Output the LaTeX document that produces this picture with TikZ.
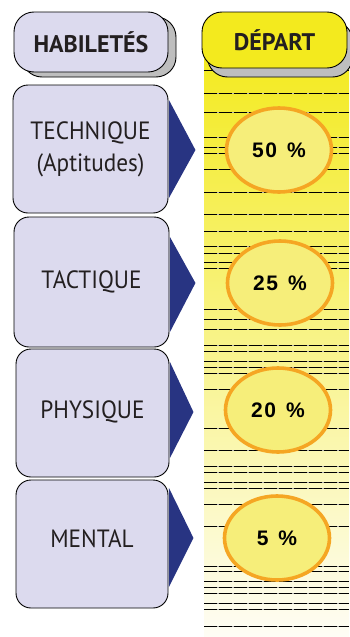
\documentclass[tikz,border=0pt]{standalone}
\usepackage{fontspec}
\setmainfont{PT Sans}
\newfontfamily\boxfont[FakeStretch=0.93]{PT Sans}
\newfontfamily\headfont{PT Sans}
\newfontfamily\pctfont{Liberation Sans}
\usetikzlibrary{calc,shapes.geometric}
\definecolor{lav}{RGB}{220,218,238}
\definecolor{navy}{RGB}{40,52,130}
\definecolor{ylw}{RGB}{243,234,30}
\definecolor{ylwmid}{RGB}{248,242,165}
\definecolor{ylwbot}{RGB}{254,253,245}
\definecolor{orng}{RGB}{245,166,35}
\definecolor{ellfill}{RGB}{246,238,122}
\definecolor{txt}{RGB}{35,31,32}
\definecolor{shadowgray}{RGB}{190,190,190}
\tikzset{
  skillbox/.style={draw=black, line width=0.9pt, fill=lav, rounded corners=15pt,
    inner sep=0pt, align=center, text=txt, font=\boxfont\fontsize{25}{33}\selectfont},
  headbox/.style={draw=black, line width=0.9pt, rounded corners=20pt, inner sep=0pt,
    text=txt, font=\headfont\bfseries\fontsize{24}{26}\selectfont},
  pct/.style={ellipse, draw=orng, line width=3.6pt, fill=ellfill, inner sep=0pt,
    minimum width=105pt, minimum height=84pt, font=\pctfont\bfseries\fontsize{21}{24}\selectfont},
  arrowtri/.style={fill=navy},
  rule/.style={line width=0.7pt}
}
\begin{document}
\begin{tikzpicture}[x=1pt,y=-1pt]
\useasboundingbox (0,0) rectangle (349,637);
% column background
\shade[top color=ylw, middle color=ylwmid, bottom color=ylwbot] (204,50) rectangle (349,637);
% horizontal rules
\foreach \y in {70,93,112,137,147,153,169,192,214,231,246,253,262,268,309,319,329,345,351,361,367,373,389,428,450,466,472,482,488,504,526,566,571,581,587,593,603,609,626}{
  \draw[rule, gray!60] (204,\y) -- (349,\y);
  \draw[rule, black, dash pattern=on 13pt off 2pt] (204,\y) -- (349,\y);
}
% headers with shadows
\node[headbox, fill=shadowgray, minimum width=154pt, minimum height=60pt] (habs) at (99,47) {};
\node[headbox, fill=lav, minimum width=154pt, minimum height=60pt] (hab) at (91,42) {HABILETÉS};
\node[headbox, fill=shadowgray, minimum width=145pt, minimum height=56pt] (deps) at (280,49) {};
\node[headbox, fill=ylw, minimum width=145pt, minimum height=56pt] (dep) at (274.5,40) {DÉPART};
% skill boxes
\node[skillbox, minimum width=155pt, minimum height=128pt] (b1) at (90.5,149) {TECHNIQUE\\[-1pt](Aptitudes)};
\node[skillbox, minimum width=155pt, minimum height=130pt, text depth=5pt] (b2) at (91.5,282) {TACTIQUE};
\node[skillbox, minimum width=153pt, minimum height=128pt, text depth=7pt] (b3) at (92.5,413) {PHYSIQUE};
\node[skillbox, minimum width=152pt, minimum height=128pt, text depth=10pt] (b4) at (92,544) {MENTAL};
% triangles
\fill[arrowtri] ($(b1.east)+(0.5,-49)$) -- ($(b1.east)+(27,1)$) -- ($(b1.east)+(0.5,49)$) -- cycle;
\fill[arrowtri] ($(b2.east)+(0.5,-45)$) -- ($(b2.east)+(26,1)$) -- ($(b2.east)+(0.5,50)$) -- cycle;
\fill[arrowtri] ($(b3.east)+(0.5,-51)$) -- ($(b3.east)+(24,-1)$) -- ($(b3.east)+(0.5,45)$) -- cycle;
\fill[arrowtri] ($(b4.east)+(0.5,-56)$) -- ($(b4.east)+(25,-6)$) -- ($(b4.east)+(0.5,43)$) -- cycle;
% percentages
\node[pct] (p1) at (279,150) {5\kern1.5pt0\kern10pt\%};
\node[pct] (p2) at (280,283) {2\kern1.5pt5\kern10pt\%};
\node[pct] (p3) at (278,410) {2\kern1.5pt0\kern10pt\%};
\node[pct] (p4) at (277,538) {5\kern10pt\%};
\end{tikzpicture}
\end{document}
